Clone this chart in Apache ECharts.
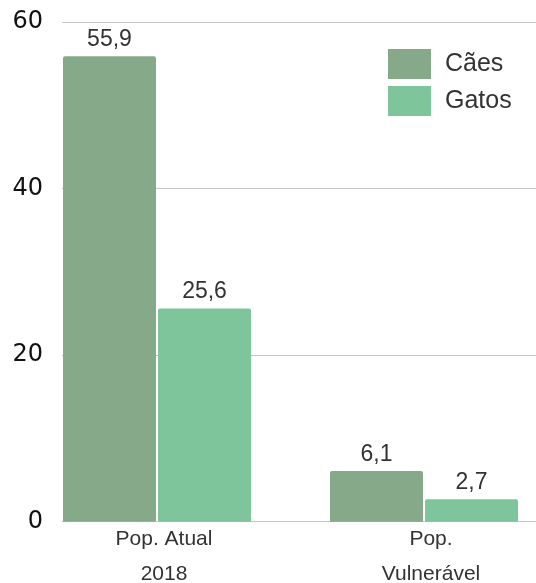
<!DOCTYPE html>
<html>
<head>
<meta charset="utf-8">
<script src="https://cdn.jsdelivr.net/npm/echarts@6/dist/echarts.min.js"></script>
<style>
  html, body { margin: 0; padding: 0; background: #fff; }
  #main { width: 536px; height: 583px; }
</style>
</head>
<body>
<div id="main"></div>
<script>
// dados do gráfico
var categories = ["Pop. Atual\n2018", "Pop.\nVulnerável"];
var seriesNames = ["Cães", "Gatos"];
var caes = [55.9, 6.1];
var gatos = [25.6, 2.7];
var yTicks = [0, 20, 40, 60];

var chart = echarts.init(document.getElementById("main"));

function virgula(p) {
  return String(p.value).replace(".", ",");
}

var option = {
  animation: false,
  color: ["#86a98a", "#7fc59b"],
  legend: {
    orient: "vertical",
    left: 388,
    top: 49,
    padding: 0,
    itemWidth: 43,
    itemHeight: 30,
    itemGap: 7,
    icon: "rect",
    data: seriesNames,
    textStyle: { fontSize: 25, color: "#333", fontFamily: "Liberation Sans", padding: [0, 0, 0, 9] }
  },
  grid: [
    // barras
    { left: 23.5, width: 534, top: 22, bottom: 61.3, outerBoundsMode: "none" },
    // linhas de grade e eixo y
    { left: 62, right: 0, top: 22, bottom: 61.3, outerBoundsMode: "none" }
  ],
  xAxis: [
    {
      type: "category",
      gridIndex: 0,
      data: categories,
      axisLine: { show: false },
      axisTick: { show: false },
      axisLabel: {
        fontSize: 21,
        color: "#333",
        lineHeight: 35,
        margin: 0,
        padding: [0, 0, 0, 14],
        fontFamily: "Liberation Sans"
      }
    },
    {
      type: "category",
      gridIndex: 1,
      data: categories,
      show: false
    }
  ],
  yAxis: [
    { type: "value", gridIndex: 0, min: 0, max: 60, interval: 20, show: false },
    {
      type: "value",
      gridIndex: 1,
      min: yTicks[0],
      max: yTicks[yTicks.length - 1],
      interval: 20,
      axisLine: { show: false },
      axisTick: { show: false },
      splitLine: { lineStyle: { color: "#c4c4c4", width: 1 } },
      axisLabel: { fontSize: 24, color: "#111", margin: 19, fontFamily: "DejaVu Sans" }
    }
  ],
  series: [
    {
      name: seriesNames[0],
      type: "bar",
      xAxisIndex: 0,
      yAxisIndex: 0,
      data: caes,
      barWidth: 93,
      barGap: "2.2%",
      itemStyle: { borderRadius: [2, 2, 0, 0] },
      label: { show: true, position: "top", distance: 5, formatter: virgula, fontSize: 23, color: "#333", fontFamily: "Liberation Sans" }
    },
    {
      name: seriesNames[1],
      type: "bar",
      xAxisIndex: 0,
      yAxisIndex: 0,
      data: gatos,
      barWidth: 93,
      barGap: "2.2%",
      itemStyle: { borderRadius: [2, 2, 0, 0] },
      label: { show: true, position: "top", distance: 5, formatter: virgula, fontSize: 23, color: "#333", fontFamily: "Liberation Sans" }
    }
  ]
};

chart.setOption(option);
</script>
</body>
</html>
